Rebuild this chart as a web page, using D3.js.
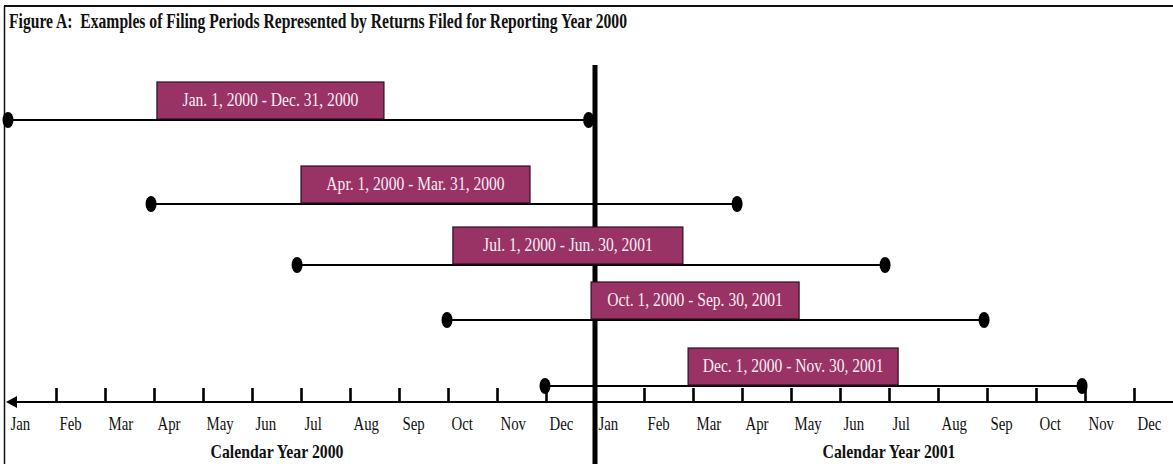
<!DOCTYPE html>
<html><head><meta charset="utf-8">
<script src="https://cdn.jsdelivr.net/npm/d3@7"></script>
<style>body{margin:0;background:#fff}svg{display:block}</style>
</head><body>
<svg id="c" width="1173" height="464"></svg>
<script>
// ---- data (months since Jan 1, 2000) ----
const periodLabels = [
  "Jan. 1, 2000 - Dec. 31, 2000",
  "Apr. 1, 2000 - Mar. 31, 2000",
  "Jul. 1, 2000 - Jun. 30, 2001",
  "Oct. 1, 2000 - Sep. 30, 2001",
  "Dec. 1, 2000 - Nov. 30, 2001"
];
const periodStart = [0.02, 2.94, 5.92, 8.98, 10.98];
const periodEnd   = [11.87, 14.90, 17.92, 19.94, 21.94];
const monthLabels = ["Jan","Feb","Mar","Apr","May","Jun","Jul","Aug","Sep","Oct","Nov","Dec",
                     "Jan","Feb","Mar","Apr","May","Jun","Jul","Aug","Sep","Oct","Nov","Dec"];
const yearLabels = ["Calendar Year 2000", "Calendar Year 2001"];
const titleText = "Figure A:  Examples of Filing Periods Represented by Returns Filed for Reporting Year 2000";

// ---- layout ----
const rowY = [120, 204, 265, 320, 386];
const boxLeft = [3.06, 6.0, 9.1, 11.92, 13.9];   // month units
const boxWidth = [227, 229, 230, 208, 210];
const axisY = 402;

const svg = d3.select("#c");
const x = d3.scaleLinear().domain([0, 24]).range([7, 7 + 24 * 49]);
const serif = "'Liberation Serif','Times New Roman',serif";

function condense(sel, f) {
  sel.each(function () {
    const w = this.getComputedTextLength();
    d3.select(this).attr("textLength", w * f).attr("lengthAdjust", "spacingAndGlyphs");
  });
}

// frame
svg.append("line").attr("x1", 4).attr("x2", 1173).attr("y1", 6).attr("y2", 6)
  .attr("stroke", "#111").attr("stroke-width", 2);
svg.append("line").attr("x1", 4.5).attr("x2", 4.5).attr("y1", 6).attr("y2", 464)
  .attr("stroke", "#111").attr("stroke-width", 1.5);

// title
svg.append("text").attr("x", 9).attr("y", 28).text(titleText)
  .style("white-space", "pre").attr("xml:space", "preserve")
  .attr("font-family", serif).attr("font-weight", "bold").attr("font-size", 20)
  .attr("textLength", 618).attr("lengthAdjust", "spacingAndGlyphs").attr("fill", "#111");

// axis ticks
const tickAxis = d3.axisTop(x).tickValues(d3.range(1, 24)).tickSize(15).tickFormat("");
const gt = svg.append("g").attr("transform", `translate(0,${axisY + 1})`).call(tickAxis);
gt.select(".domain").remove();
gt.selectAll(".tick line").attr("stroke", "#000").attr("stroke-width", 2.6);

// axis line with arrow
svg.append("line").attr("x1", x(0) + 4).attr("x2", 1173).attr("y1", axisY).attr("y2", axisY)
  .attr("stroke", "#000").attr("stroke-width", 1.8);
svg.append("path").attr("d", `M${x(0) - 1},${axisY} L${x(0) + 10},${axisY - 6} L${x(0) + 10},${axisY + 6} Z`)
  .attr("fill", "#000");

// month labels
const labelAxis = d3.axisBottom(x).tickValues(d3.range(0, 24)).tickSize(0)
  .tickFormat(i => monthLabels[i]);
const gl = svg.append("g").attr("transform", `translate(0,${axisY})`).call(labelAxis);
gl.select(".domain").remove();
gl.selectAll(".tick text").attr("text-anchor", "start").attr("x", 3).attr("y", 28).attr("dy", null)
  .attr("font-family", serif).attr("font-size", 19).attr("fill", "#111").call(condense, 0.78);

// year labels
const yearCenter = [277, (x(12) + x(24)) / 2];
svg.selectAll("text.year").data(yearLabels).join("text").attr("class", "year")
  .attr("x", (d, i) => yearCenter[i]).attr("y", 458).attr("text-anchor", "middle")
  .attr("font-family", serif).attr("font-weight", "bold").attr("font-size", 19).attr("fill", "#111")
  .text(d => d).attr("textLength", 133).attr("lengthAdjust", "spacingAndGlyphs");

// year divider (drawn beneath the label boxes)
svg.append("line").attr("x1", x(12)).attr("x2", x(12)).attr("y1", 65).attr("y2", 464)
  .attr("stroke", "#000").attr("stroke-width", 5);

// period lines
const rows = periodLabels.map((l, i) => ({ l, s: periodStart[i], e: periodEnd[i], i }));
const g = svg.append("g");
g.selectAll("line.per").data(rows).join("line").attr("class", "per")
  .attr("x1", d => x(d.s)).attr("x2", d => x(d.e))
  .attr("y1", d => rowY[d.i]).attr("y2", d => rowY[d.i])
  .attr("stroke", "#000").attr("stroke-width", 1.8);

// boxes
g.selectAll("rect.box").data(rows).join("rect").attr("class", "box")
  .attr("x", d => x(boxLeft[d.i])).attr("y", d => rowY[d.i] - 38)
  .attr("width", d => boxWidth[d.i]).attr("height", 37)
  .attr("fill", "#993366").attr("stroke", "#2a1020").attr("stroke-width", 1.2);
g.selectAll("text.box").data(rows).join("text").attr("class", "box")
  .attr("x", d => x(boxLeft[d.i]) + boxWidth[d.i] / 2).attr("y", d => rowY[d.i] - 14)
  .attr("text-anchor", "middle").attr("font-family", serif).attr("font-size", 19)
  .attr("fill", "#f6eef2").text(d => d.l).call(condense, 0.82);

// end dots
const dots = [];
rows.forEach(d => { dots.push({ v: d.s, i: d.i }); dots.push({ v: d.e, i: d.i }); });
g.selectAll("ellipse").data(dots).join("ellipse")
  .attr("cx", d => x(d.v)).attr("cy", d => rowY[d.i]).attr("rx", 5.5).attr("ry", 8)
  .attr("fill", "#000");
</script>
</body></html>
